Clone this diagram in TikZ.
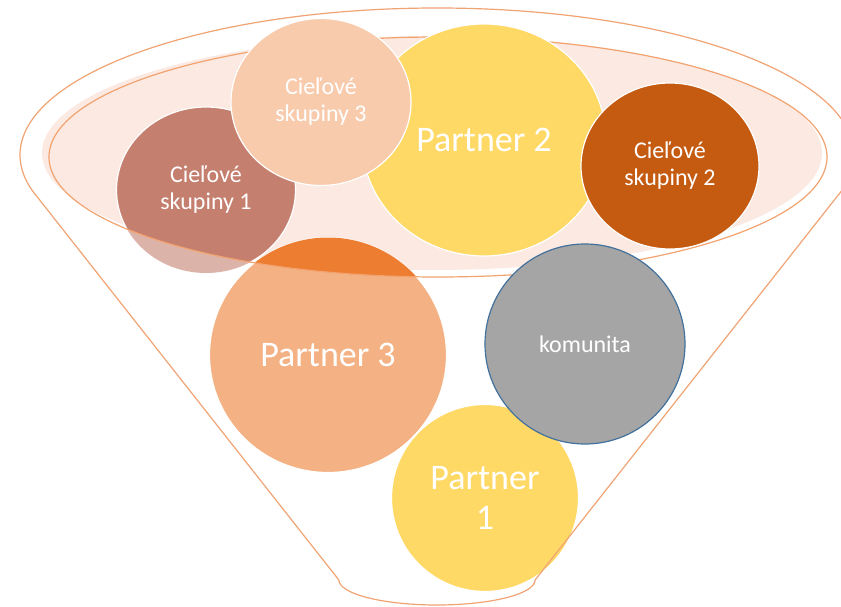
\documentclass[tikz,border=0pt]{standalone}
\usepackage{fontspec}
\setmainfont{Carlito}
\usetikzlibrary{shapes.geometric}
\definecolor{cOneDark}{HTML}{C47F6E}
\definecolor{cOneLight}{HTML}{DCB3A8}
\definecolor{cThree}{HTML}{F8CBAD}
\definecolor{cTwo}{HTML}{C55A11}
\definecolor{pYellow}{HTML}{FFD966}
\definecolor{pThreeLight}{HTML}{F4B183}
\definecolor{pThreeDark}{HTML}{ED7D31}
\definecolor{komGray}{HTML}{A5A5A5}
\definecolor{komBlue}{HTML}{41719C}
\definecolor{ringFill}{HTML}{FBE9E2}
\definecolor{ringLine}{HTML}{F2A370}
\definecolor{funLine}{HTML}{F1A473}
\tikzset{
  bubble/.style={ellipse, inner sep=0pt, draw=white, line width=1.2pt, text=white, align=center},
  small/.style={font=\fontsize{24}{27}\selectfont},
  big/.style={font=\fontsize{36}{40}\selectfont},
  funnel/.style={draw=funLine, line width=1.2pt},
}
\begin{document}
\begin{tikzpicture}[x=1pt,y=-1pt]
\clip (0,0) rectangle (841,607);
\fill[white] (0,0) rectangle (841,607);
% inner ring fill
\fill[ringFill] (432,153) ellipse [x radius=390pt, y radius=117pt];
% Cieľové skupiny 1 (dark inside ring, light outside)
\node[bubble, small, fill=cOneDark, minimum width=179pt, minimum height=166pt] (c1) at (206,190) {Cieľové\\skupiny 1};
\begin{scope}[even odd rule]
  \clip (0,0) rectangle (841,607) (438,157) ellipse [x radius=389pt, y radius=120pt];
  \fill[cOneLight] (206,190) ellipse [x radius=89.5pt, y radius=83pt];
\end{scope}
% Partner 3 (light, dark inside ring)
\node[bubble, big, fill=pThreeLight, minimum width=237pt, minimum height=235pt] (p3) at (328,355) {Partner 3};
\begin{scope}
  \clip (438,157) ellipse [x radius=389pt, y radius=120pt];
  \fill[pThreeDark] (328,355) ellipse [x radius=118.5pt, y radius=117.5pt];
\end{scope}
% ring outline
\draw[ringLine, line width=1.2pt] (438,157) ellipse [x radius=389pt, y radius=120pt];
% remaining bubbles
\node[bubble, big, fill=pYellow, minimum width=244pt, minimum height=232pt] (p2) at (484,140) {Partner 2};
\node[bubble, small, fill=cThree, minimum width=180pt, minimum height=167pt] (c3) at (321,102) {Cieľové\\skupiny 3};
\node[bubble, small, fill=cTwo, minimum width=178pt, minimum height=166pt] (c2) at (670,166) {Cieľové\\skupiny 2};
\node[bubble, big, fill=pYellow, minimum width=187pt, minimum height=187pt] (p1) at (485,498) {Partner\\1};
\node[bubble, small, fill=komGray, draw=komBlue, minimum width=200pt, minimum height=200pt] (kom) at (585,344) {komunita};
% funnel outline
\begin{scope}
  \clip (0,0) rectangle (841,194.3);
  \draw[funnel] (437,155) ellipse [x radius=417pt, y radius=147pt];
\end{scope}
\draw[funnel] (35.2,194.3) -- (338.9,580);
\draw[funnel] (838.8,194.3) -- (535.1,580);
\begin{scope}
  \clip (0,580) rectangle (841,607);
  \draw[funnel] (437,580) ellipse [x radius=98.1pt, y radius=25pt];
\end{scope}
\end{tikzpicture}
\end{document}
